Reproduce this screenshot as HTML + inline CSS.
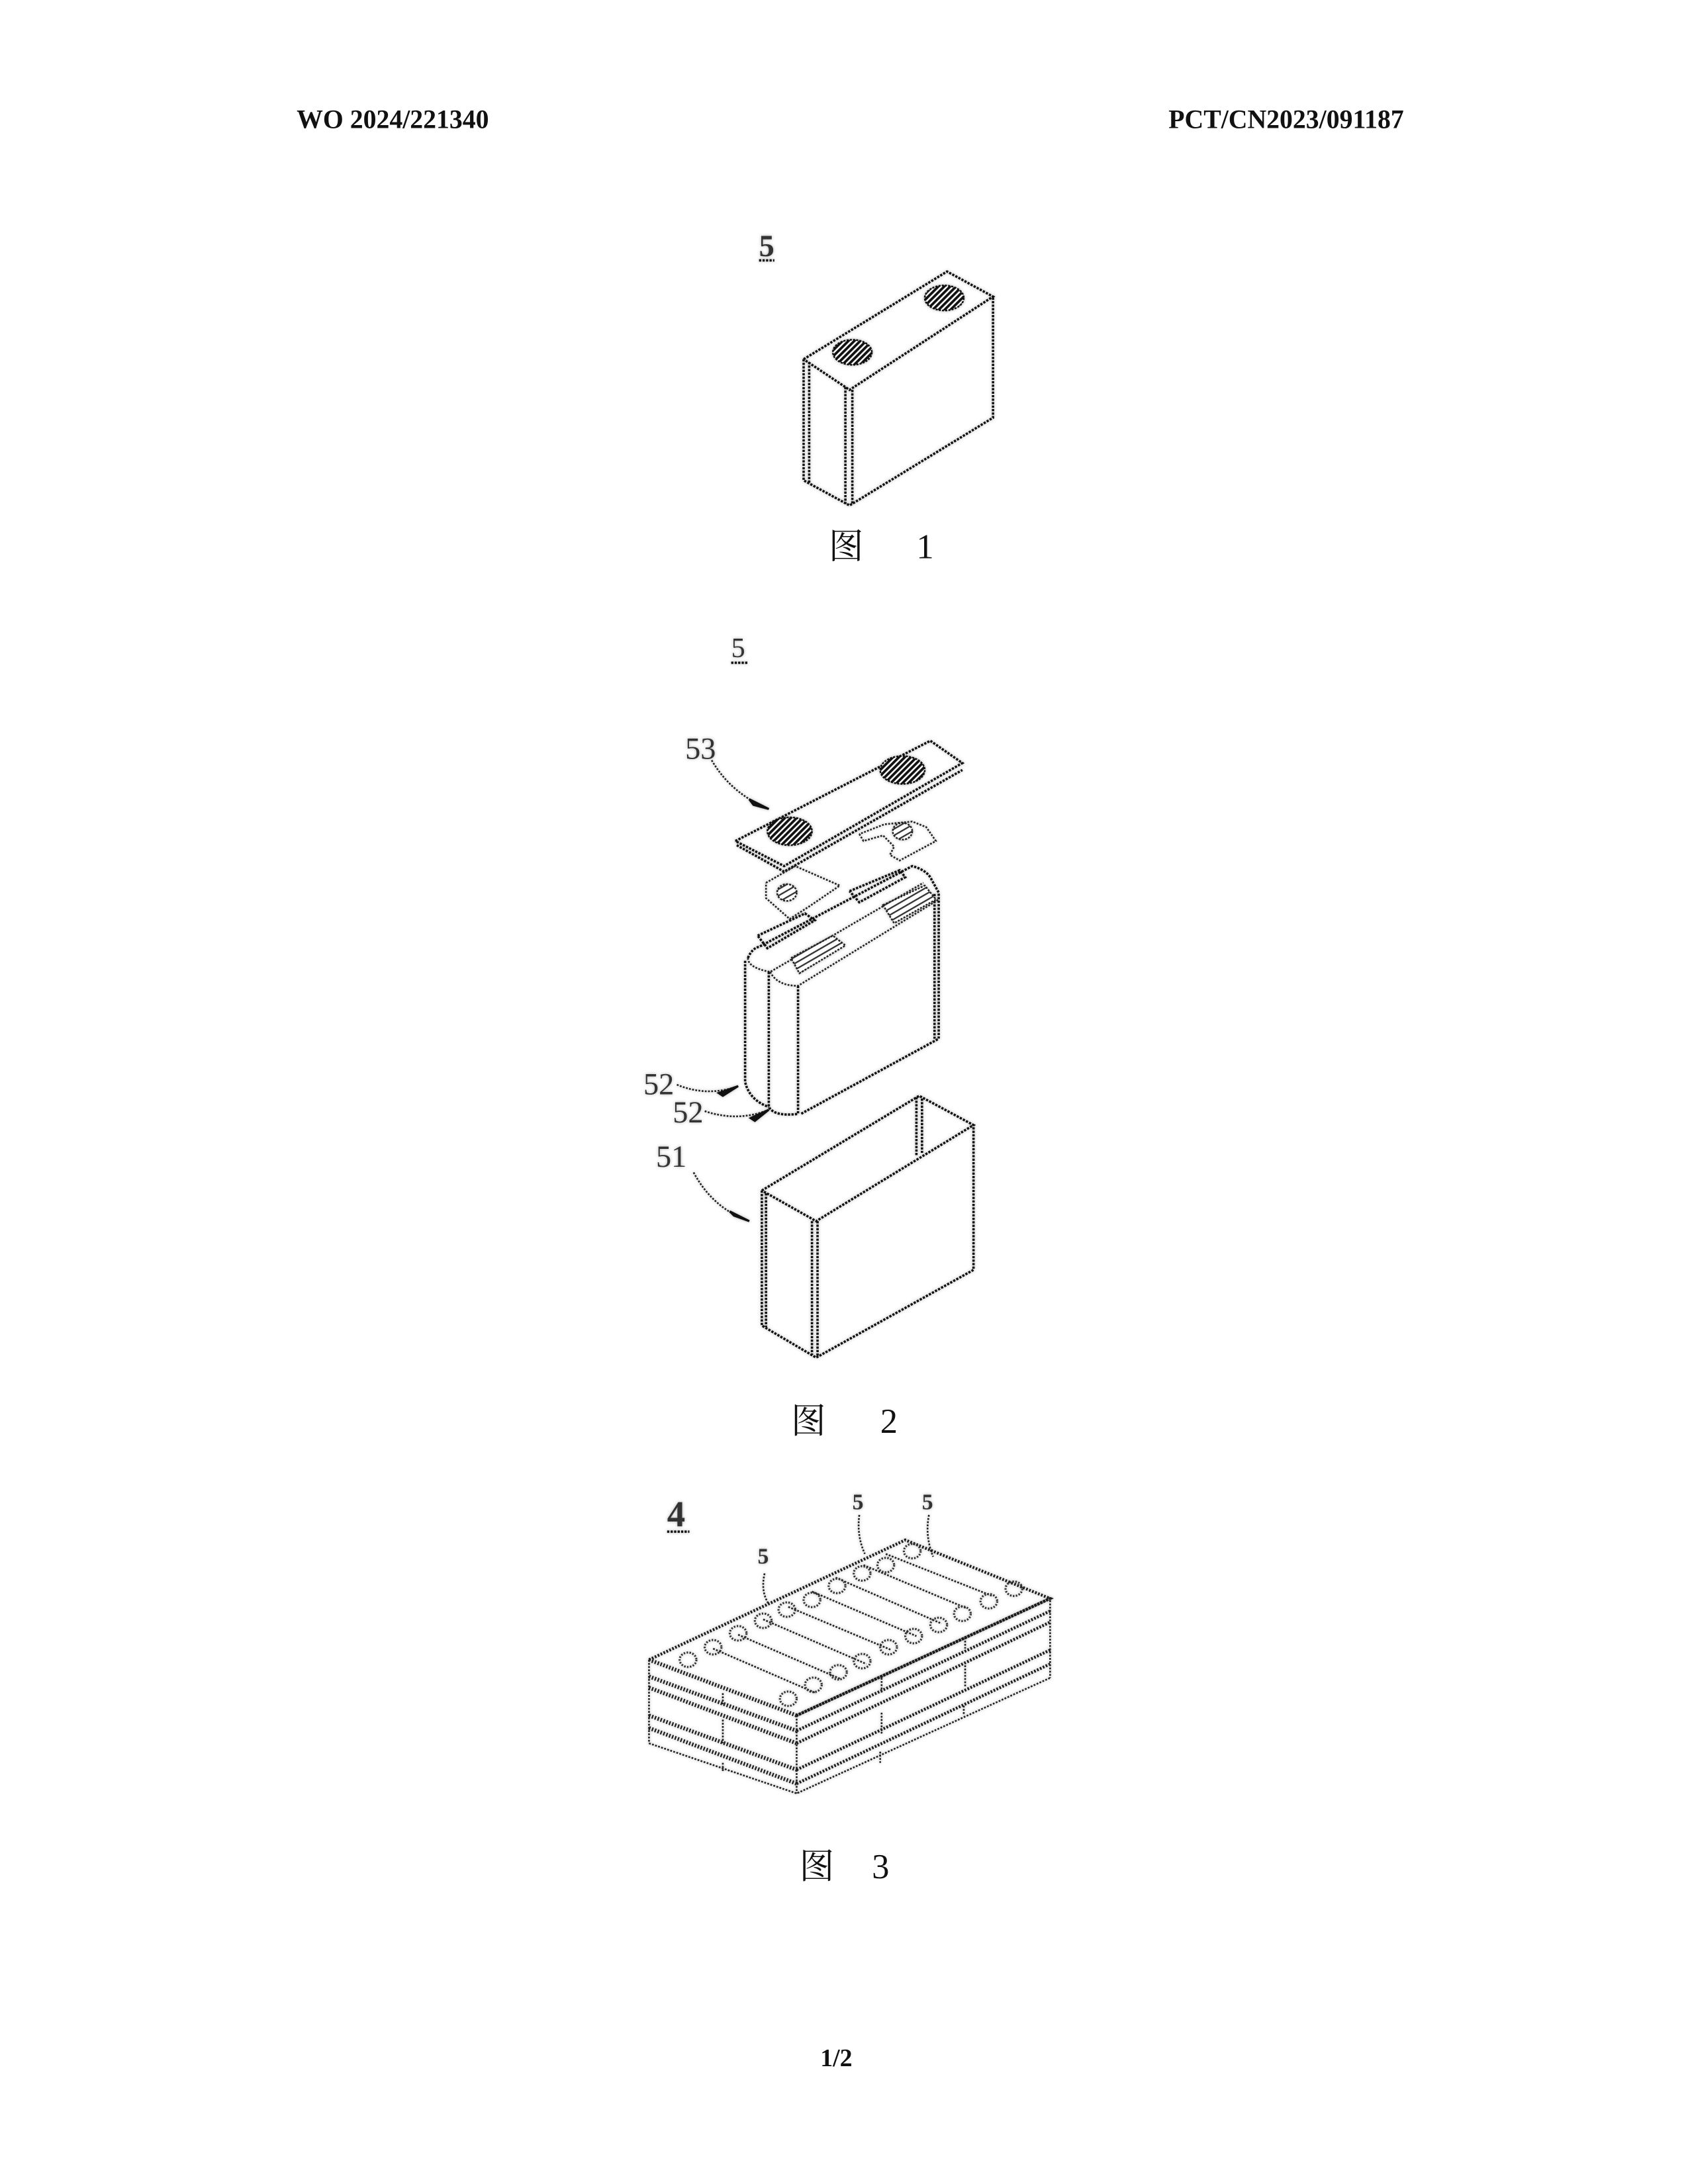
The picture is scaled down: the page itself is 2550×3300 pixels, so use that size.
<!DOCTYPE html>
<html><head><meta charset="utf-8"><style>
html,body{margin:0;padding:0;background:#fff}
svg{display:block}
.l{fill:none;stroke:#111;stroke-width:1.7;stroke-dasharray:1.6 .9}
.t{fill:none;stroke:#222;stroke-width:1.25;stroke-dasharray:1.3 1}
.c{fill:none;stroke:#333;stroke-width:1.5;stroke-dasharray:1.1 1}
.d{fill:none;stroke:#1a1a1a;stroke-width:2.1;stroke-dasharray:1.2 1.1}
.e{fill:none;stroke:#1a1a1a;stroke-width:2.8;stroke-dasharray:1 1.2}
.h{fill:url(#hatch);stroke:#111;stroke-width:1.2;stroke-dasharray:1.5 .8}
.s{fill:url(#hatch2);stroke:#222;stroke-width:1.2;stroke-dasharray:1.4 .9}
text{font-family:"Liberation Serif","Noto Serif CJK SC",serif;fill:#111}
.b{font-weight:bold}
.lab{fill:#333}
.halo{filter:drop-shadow(0 0 1.2px #aaa)}
</style></head><body>
<svg width="2550" height="3300" viewBox="0 0 1212 1568.5" xmlns="http://www.w3.org/2000/svg">
<defs>
<pattern id="hatch" width="3" height="3" patternUnits="userSpaceOnUse" patternTransform="rotate(45)"><rect width="3" height="3" fill="#fff"/><rect width="1.8" height="3" fill="#111"/></pattern>
<pattern id="hatch2" width="4" height="4" patternUnits="userSpaceOnUse" patternTransform="rotate(60)"><rect width="4" height="4" fill="#fff"/><rect width="1.1" height="4" fill="#333"/></pattern>
</defs>

<text x="213" y="92" class="b" font-size="18.9">WO 2024/221340</text>
<text x="839" y="92" class="b" font-size="18.9">PCT/CN2023/091187</text>
<text x="589" y="1484" class="b" font-size="18">1/2</text>

<g class="halo">
<!-- Fig 1 -->
<text x="545" y="184" class="b lab" font-size="22">5</text>
<path class="l" d="M545 187H556"/>
<path class="l" d="M577 258L680 195L713 213L610 280L577 258M577 258V345L610 363L713 300V213M581 260V347M607 278V362M612 280V362"/>
<ellipse class="h" cx="612" cy="253" rx="14" ry="9"/>
<ellipse class="h" cx="678" cy="214" rx="14" ry="9"/>

<!-- Fig 2 -->
<text x="525" y="472" font-size="20" class="lab">5</text>
<path class="l" d="M525 476H537"/>
<text x="492" y="545" font-size="22" class="lab">53</text>
<path class="t" d="M511 546Q525 570 552 581"/>
<path d="M538 574L552 581L541 578Z" fill="#111" stroke="#111" stroke-width="1.5"/>
<!-- plate -->
<path class="l" d="M528 604L668 532L691 548L563 622L528 604M529 607L563 626L691 553"/>
<ellipse class="h" cx="567" cy="597" rx="16" ry="10"/>
<ellipse class="h" cx="648" cy="553" rx="16" ry="10"/>
<!-- right tab -->
<path class="t" d="M617 599L620 604L634 600L642 608L639 614L646 618L672 604L665 594L655 590L635 592L617 599"/>
<ellipse class="s" cx="648" cy="597" rx="7" ry="6"/>
<!-- left tab -->
<path class="t" d="M550 634L571 622L603 636L581 651L567 660L550 645L550 634"/>
<ellipse class="s" cx="565" cy="641" rx="7" ry="6"/>
<!-- rolls -->
<path class="l" d="M537 688Q540 681 545 680L655 622Q666 625 669 632L674 641V746L575 800"/>
<path class="t" d="M537 688Q537 695 553 698L663 634"/>
<path class="t" d="M553 698Q558 708 573 708L674 646"/>
<path class="l" d="M535 690V777Q538 790 552 795M552 698V795Q556 802 573 800M573 708V800M671 642V746"/>
<path class="l" d="M544 672L578 656L585 661L551 681L544 672"/>
<path class="l" d="M610 640L646 625L650 630L617 648L610 640"/>
<path class="s" d="M568 688L598 672L607 679L574 699Z"/>
<path class="s" d="M634 650L664 636L672 646L642 663Z"/>
<!-- 52 labels -->
<text x="462" y="786" font-size="22" class="lab">52</text>
<path class="t" d="M486 779Q508 788 530 780"/>
<path d="M516 785L530 780L519 787Z" fill="#111" stroke="#111" stroke-width="1.5"/>
<text x="483" y="806" font-size="22" class="lab">52</text>
<path class="t" d="M506 798Q530 806 552 797"/>
<path d="M539 803L552 797L542 805Z" fill="#111" stroke="#111" stroke-width="1.5"/>
<text x="471" y="838" font-size="22" class="lab">51</text>
<path class="t" d="M498 842Q512 868 538 877"/>
<path d="M524 870L538 877L527 873Z" fill="#111" stroke="#111" stroke-width="1.5"/>
<!-- box -->
<path class="l" d="M547 855L660 787L699 808L586 877L547 855M547 855V952L586 975L699 912V808M550 857V953M583 877V973M587 877V975M658 788V830M662 789V828"/>

<!-- Fig 3 -->
<text x="479" y="1096" class="b lab" font-size="26">4</text>
<path class="l" d="M479 1100H495"/>
<text x="612" y="1084" class="b lab" font-size="16">5</text>
<text x="662" y="1084" class="b lab" font-size="16">5</text>
<text x="544" y="1123" class="b lab" font-size="16">5</text>
<path class="t" d="M549 1130Q546 1143 552 1152M617 1088Q615 1103 621 1116M667 1088Q664 1103 670 1118"/>
<!-- pack outline -->
<path class="d" d="M466 1192L650 1106L754 1148L572 1232"/>
<path class="e" d="M466 1192L572 1232M466 1204L572 1243M466 1212L572 1252M466 1232L572 1271M466 1241L572 1281"/>
<path class="d" d="M572 1232L754 1148M572 1243L754 1157M572 1252L754 1165M572 1271L754 1185M572 1281L754 1195"/>
<path class="t" d="M466 1252L572 1288L754 1205"/>
<path class="t" d="M466 1192V1252M572 1232V1288M754 1147V1205"/>
<path class="t" d="M519 1216V1224M519 1235V1252M519 1266V1272M633 1205V1216M633 1230V1245M632 1258V1266M693 1176V1184M693 1196V1212M692 1225V1232"/>
<!-- strips -->
<path class="t" d="M512 1184L586 1216M530 1174L604 1206M548 1163L622 1195M566 1154L640 1185M583 1143L658 1175M600 1133L676 1166M620 1124L694 1155M636 1116L712 1146"/>
<ellipse class="c" cx="494" cy="1192" rx="6" ry="5.2"/><ellipse class="c" cx="512" cy="1183" rx="6" ry="5.2"/><ellipse class="c" cx="530" cy="1173" rx="6" ry="5.2"/><ellipse class="c" cx="548" cy="1164" rx="6" ry="5.2"/><ellipse class="c" cx="565" cy="1156" rx="6" ry="5.2"/><ellipse class="c" cx="583" cy="1149" rx="6" ry="5.2"/><ellipse class="c" cx="601" cy="1139" rx="6" ry="5.2"/><ellipse class="c" cx="619" cy="1130" rx="6" ry="5.2"/><ellipse class="c" cx="636" cy="1124" rx="6" ry="5.2"/><ellipse class="c" cx="655" cy="1114" rx="6" ry="5.2"/>
<ellipse class="c" cx="566" cy="1220" rx="6" ry="5.2"/><ellipse class="c" cx="584" cy="1210" rx="6" ry="5.2"/><ellipse class="c" cx="602" cy="1201" rx="6" ry="5.2"/><ellipse class="c" cx="619" cy="1193" rx="6" ry="5.2"/><ellipse class="c" cx="638" cy="1183" rx="6" ry="5.2"/><ellipse class="c" cx="656" cy="1175" rx="6" ry="5.2"/><ellipse class="c" cx="674" cy="1167" rx="6" ry="5.2"/><ellipse class="c" cx="691" cy="1159" rx="6" ry="5.2"/><ellipse class="c" cx="710" cy="1150" rx="6" ry="5.2"/><ellipse class="c" cx="728" cy="1141" rx="6" ry="5.2"/>
</g>
<text x="595" y="401" font-size="25">图</text>
<text x="658" y="401" font-size="25">1</text>
<text x="568" y="1029" font-size="25">图</text>
<text x="632" y="1029" font-size="25">2</text>
<text x="574" y="1349" font-size="25">图</text>
<text x="626" y="1349" font-size="25">3</text>
</svg>
</body></html>
